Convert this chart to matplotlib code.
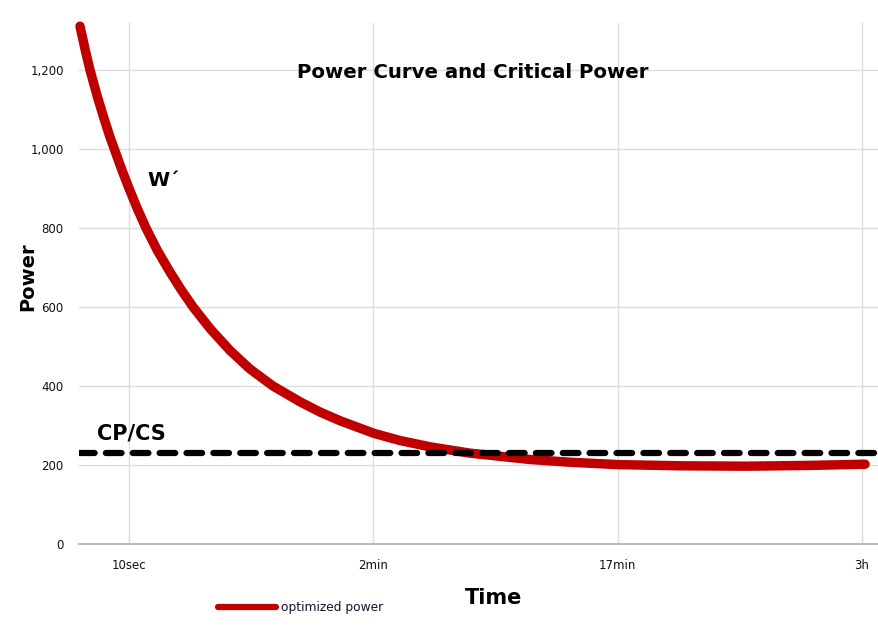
import matplotlib.pyplot as plt

# x is a position on the time axis: tick 1 = 10sec, 2 = 2min, 3 = 17min, 4 = 3h
time_pos = [0.799, 0.820, 0.840, 0.869, 0.898, 0.922, 0.943, 0.971, 1.0, 1.033,
            1.070, 1.115, 1.168, 1.213, 1.262, 1.332, 1.413, 1.495, 1.589, 1.700,
            1.782, 1.864, 2.003, 2.109, 2.232, 2.396, 2.641, 2.805, 3.002, 3.255,
            3.530, 3.788, 4.013]
power = [1311, 1252, 1200, 1135, 1076, 1030, 994, 946, 900, 850,
         799, 744, 688, 644, 600, 545, 490, 443, 400, 360,
         334, 312, 280, 262, 246, 230, 214, 207, 201, 198,
         197, 199, 202]
cp_value = 230
tick_pos = [1, 2, 3, 4]
tick_labels = ["10sec", "2min", "17min", "3h"]
y_ticks = [0, 200, 400, 600, 800, 1000, 1200]

red = "#c00000"

fig = plt.figure(figsize=(8.79, 6.37), dpi=100)
ax = fig.add_axes([79 / 879, 93 / 637, 800 / 879, 521 / 637])
ax.set_xlim(0.795, 4.07)
ax.set_ylim(0, 1319)

ax.plot(time_pos, power, color=red, lw=6.8, solid_capstyle="round",
        solid_joinstyle="round", zorder=3, clip_on=False)
cp_line, = ax.plot([0.795, 4.07], [cp_value, cp_value], color="black", lw=4.5,
                   dash_capstyle="round", zorder=4)
cp_line.set_dashes([2.5, 1.8])

ax.set_xticks(tick_pos)
ax.set_xticklabels(tick_labels)
ax.set_yticks(y_ticks)
ax.set_yticklabels([f"{v:,}" for v in y_ticks])
ax.tick_params(length=0, labelsize=8.5, colors="#111111")
ax.tick_params(axis="x", pad=11)
ax.tick_params(axis="y", pad=11)
ax.grid(True, color="#dcdcdc", lw=1)
for s in ["top", "right", "left"]:
    ax.spines[s].set_visible(False)
ax.spines["bottom"].set_color("#bbbbbb")
ax.spines["bottom"].set_linewidth(1.5)

fig.text(473 / 879, 1 - 73 / 637, "Power Curve and Critical Power", ha="center",
         va="center", fontsize=14.2, fontweight="bold")
ax.text(1.074, 921, "W\u00b4", fontsize=14.5, fontweight="bold", ha="left", va="center")
ax.text(0.87, 281, "CP/CS", fontsize=15, fontweight="bold", ha="left", va="center")
fig.text(28 / 879, 1 - 277 / 637, "Power", rotation=90, ha="center", va="center",
         fontsize=14, fontweight="bold")
fig.text(494 / 879, 1 - 598 / 637, "Time", ha="center", va="center",
         fontsize=15, fontweight="bold")

# legend
leg_y = 1 - 607 / 637
fig.add_artist(plt.Line2D([218 / 879, 276 / 879], [leg_y, leg_y], color=red, lw=4.5,
                          solid_capstyle="round"))
fig.text(281 / 879, leg_y, "optimized power", ha="left", va="center",
         fontsize=8.8, color="#111133")

fig.savefig("out.png", dpi=100)
